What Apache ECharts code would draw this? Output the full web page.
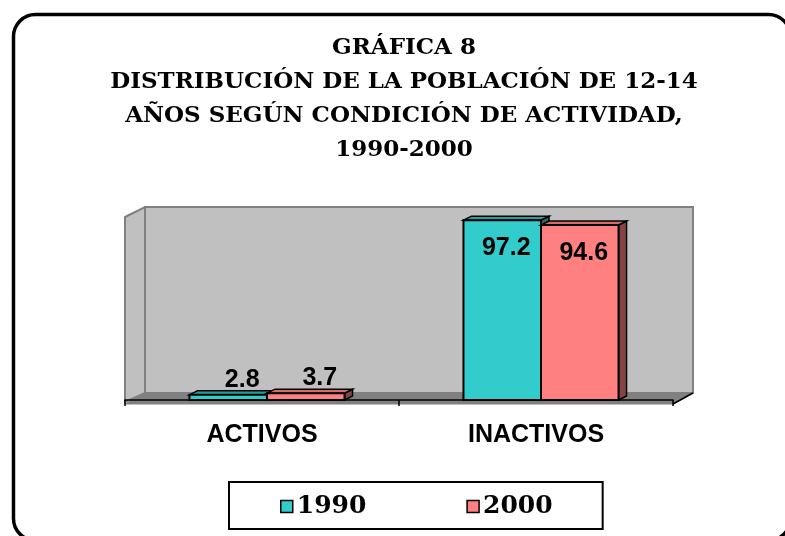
<!DOCTYPE html>
<html>
<head>
<meta charset="utf-8">
<script src="https://cdn.jsdelivr.net/npm/echarts@6/dist/echarts.min.js"></script>
<style>
  html, body { margin: 0; padding: 0; background: #fff; }
  #main { width: 785px; height: 536px; }
</style>
</head>
<body>
<div id="main"></div>
<script>
// datos de la gráfica
var categorias = ['ACTIVOS', 'INACTIVOS'];
var anios = ['1990', '2000'];
var valores1990 = [2.8, 97.2];
var valores2000 = [3.7, 94.6];

var colores = {
  '1990': { front: '#33CCCC', top: '#2A9E9E', side: '#1E6E6E' },
  '2000': { front: '#FF8080', top: '#D86A6A', side: '#874444' }
};

var chart = echarts.init(document.getElementById('main'));

// barra 3D: cara frontal, superior y lateral
function barra3d(serieIdx, nombre) {
  return function (params, api) {
    var cat = api.value(0);
    var v = api.value(1);
    var base = api.coord([cat, 0]);
    var tope = api.coord([cat, v]);
    var bw = api.size([1, 0])[0] * 0.283;
    var shift = 5;
    var x0 = serieIdx === 0 ? base[0] - bw + shift : base[0] + shift;
    var x1 = x0 + bw;
    var yb = base[1], yt = tope[1];
    var dx = 8, dy = -4;
    var c = colores[nombre];
    var ly = v > 50 ? yt + 28 : yt - 15;
    var lx = (x0 + x1) / 2 + (v > 50 ? 4 : 14);
    return {
      type: 'group',
      children: [
        { type: 'polygon', shape: { points: [[x1, yt], [x1 + dx, yt + dy], [x1 + dx, yb + dy], [x1, yb]] },
          style: { fill: c.side, stroke: '#000', lineWidth: 1.5 } },
        { type: 'polygon', shape: { points: [[x0, yt], [x0 + dx, yt + dy], [x1 + dx, yt + dy], [x1, yt]] },
          style: { fill: c.top, stroke: '#000', lineWidth: 1.5 } },
        { type: 'rect', shape: { x: x0, y: yt, width: bw, height: yb - yt },
          style: { fill: c.front, stroke: '#000', lineWidth: 2 } },
        { type: 'text', style: { text: String(v), x: lx, y: ly, align: 'center', verticalAlign: 'middle',
          font: 'bold 25px "Liberation Sans", Arial, sans-serif', fill: '#000' } }
      ]
    };
  };
}

var option = {
  animation: false,
  backgroundColor: '#fff',
  title: {
    text: 'GRÁFICA 8\nDISTRIBUCIÓN DE LA POBLACIÓN DE 12-14\nAÑOS SEGÚN CONDICIÓN DE ACTIVIDAD,\n1990-2000',
    left: 399,
    textAlign: 'center',
    top: 26,
    textStyle: {
      fontFamily: '"DejaVu Serif", serif',
      fontWeight: 'bold',
      fontSize: 23,
      lineHeight: 34,
      color: '#000'
    }
  },
  legend: {
    data: anios,
    left: 229,
    top: 482,
    padding: [12, 50, 10, 51],
    itemGap: 100,
    itemWidth: 12,
    itemHeight: 12,
    icon: 'rect',
    borderColor: '#000',
    borderWidth: 2,
    backgroundColor: '#fff',
    itemStyle: { borderColor: '#000', borderWidth: 1.5 },
    textStyle: { fontFamily: '"DejaVu Serif", serif', fontWeight: 'bold', fontSize: 25, color: '#000', padding: [0, 0, 0, -1] }
  },
  grid: { left: 125, right: 112, top: 215, bottom: 136 },
  xAxis: {
    type: 'category',
    data: categorias,
    offset: 4,
    axisLine: { lineStyle: { color: '#000', width: 1.5 } },
    axisTick: { show: true, interval: 0, length: 6, lineStyle: { color: '#000', width: 1.5 } },
    axisLabel: { margin: 19, color: '#000', fontFamily: '"Liberation Sans", Arial, sans-serif', fontWeight: 'bold', fontSize: 25 }
  },
  yAxis: { type: 'value', min: 0, max: 100, show: false },
  graphic: [
    { type: 'rect', z: -10, shape: { x: 13.5, y: 14.5, width: 777, height: 526, r: 22 },
      style: { fill: '#fff', stroke: '#000', lineWidth: 3.5 } },
    { type: 'rect', z: -5, shape: { x: 145, y: 207, width: 548, height: 186 },
      style: { fill: '#C0C0C0', stroke: '#808080', lineWidth: 2 } },
    { type: 'polygon', z: -5, shape: { points: [[125, 217], [145, 207], [145, 393], [125, 402]] },
      style: { fill: '#C0C0C0', stroke: '#808080', lineWidth: 2 } },
    { type: 'polygon', z: -4, shape: { points: [[125, 404], [145, 393], [693, 393], [673, 404]] },
      style: { fill: '#808080', stroke: '#808080', lineWidth: 1 } },
    { type: 'line', z: -3, shape: { x1: 673, y1: 404, x2: 693, y2: 393 },
      style: { stroke: '#000', lineWidth: 1.5 } }
  ],
  series: [
    {
      name: '1990', type: 'custom', z: 5,
      itemStyle: { color: colores['1990'].front },
      renderItem: barra3d(0, '1990'),
      encode: { x: 0, y: 1 },
      data: valores1990.map(function (v, i) { return [i, v]; })
    },
    {
      name: '2000', type: 'custom', z: 5,
      itemStyle: { color: colores['2000'].front },
      renderItem: barra3d(1, '2000'),
      encode: { x: 0, y: 1 },
      data: valores2000.map(function (v, i) { return [i, v]; })
    }
  ]
};

chart.setOption(option);
</script>
</body>
</html>
